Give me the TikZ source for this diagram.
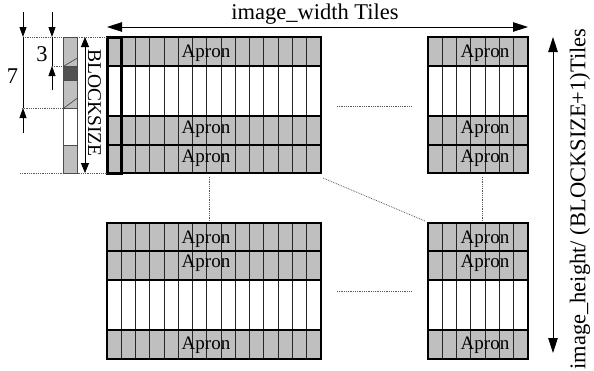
\documentclass[tikz,border=0pt]{standalone}
\usepackage{fontspec}
\setmainfont{Liberation Serif}
\usetikzlibrary{arrows.meta}

\begin{document}
\begin{tikzpicture}[x=1pt,y=-1pt,line cap=butt,
  lbl/.style={font=\fontsize{22.5}{24}\selectfont,inner sep=0pt},
  apron/.style={font=\fontsize{19}{20}\selectfont,inner sep=0pt},
  colline/.style={black!85,line width=0.9pt},
  rowline/.style={black,line width=1.1pt},
  gridframe/.style={black,line width=1.6pt},
  cellline/.style={black!70,line width=0.7pt},
  linkdots/.style={black!65,densely dotted,line width=0.8pt},
  dimarrow/.style={line width=0.8pt,-{Triangle[length=10pt,width=7pt]}},
  spanarrow/.style={line width=0.8pt,{Triangle[length=15pt,width=9.5pt]}-{Triangle[length=15pt,width=9.5pt]}}]
  \definecolor{apronfill}{RGB}{191,191,191}
  \definecolor{blockdark}{RGB}{82,82,82}
  \useasboundingbox (0,0) rectangle (594,370);

  % ---- top-left block of tiles (15 columns) ----
  \fill[apronfill] (107,37) rectangle (321,66);
  \fill[apronfill] (107,116) rectangle (321,173);
  \foreach \i in {1,...,14}
    \draw[colline] ({107+\i*214/15},37) -- ({107+\i*214/15},173);
  \draw[rowline] (107,66) -- (321,66) (107,116) -- (321,116) (107,145) -- (321,145);
  \draw[gridframe] (107,37) rectangle (321,173);
  \draw[line width=3pt] (107,37) rectangle (121.3,173);
  \node[apron] (tlA) at (206,53) {Apron};
  \node[apron] (tlB) at (206,129.5) {Apron};
  \node[apron] (tlC) at (206,158) {Apron};

  % ---- top-right block of tiles (7 columns) ----
  \fill[apronfill] (428,37) rectangle (528,66);
  \fill[apronfill] (428,116) rectangle (528,173);
  \foreach \i in {1,...,6}
    \draw[colline] ({428+\i*100/7},37) -- ({428+\i*100/7},173);
  \draw[rowline] (428,66) -- (528,66) (428,116) -- (528,116) (428,145) -- (528,145);
  \draw[gridframe] (428,37) rectangle (528,173);
  \node[apron] (trA) at (485,53) {Apron};
  \node[apron] (trB) at (485,129.5) {Apron};
  \node[apron] (trC) at (485,158) {Apron};

  % ---- bottom-left block of tiles ----
  \fill[apronfill] (107,223) rectangle (321,280);
  \fill[apronfill] (107,330) rectangle (321,359);
  \foreach \i in {1,...,14}
    \draw[colline] ({107+\i*214/15},223) -- ({107+\i*214/15},359);
  \draw[rowline] (107,251) -- (321,251) (107,280) -- (321,280) (107,330) -- (321,330);
  \draw[gridframe] (107,223) rectangle (321,359);
  \node[apron] (blA) at (206,239) {Apron};
  \node[apron] (blB) at (206,263) {Apron};
  \node[apron] (blC) at (206,345.5) {Apron};

  % ---- bottom-right block of tiles ----
  \fill[apronfill] (428,223) rectangle (528,280);
  \fill[apronfill] (428,330) rectangle (528,359);
  \foreach \i in {1,...,6}
    \draw[colline] ({428+\i*100/7},223) -- ({428+\i*100/7},359);
  \draw[rowline] (428,251) -- (528,251) (428,280) -- (528,280) (428,330) -- (528,330);
  \draw[gridframe] (428,223) rectangle (528,359);
  \node[apron] (brA) at (485,239) {Apron};
  \node[apron] (brB) at (485,263) {Apron};
  \node[apron] (brC) at (485,345.5) {Apron};

  % dotted links between the blocks
  \draw[linkdots] (337,106) -- (411,106);
  \draw[linkdots] (337,291) -- (411,291);
  \draw[linkdots] (209,177) -- (209,221);
  \draw[linkdots] (482,177) -- (482,221);
  \draw[linkdots] (323,178) -- (425,221);

  % ---- single column strip at the left ----
  \draw[linkdots] (23,37) -- (107,37);
  \draw[linkdots] (52,66) -- (63,66);
  \draw[linkdots] (22,108) -- (63,108);
  \draw[linkdots] (20,173) -- (107,173);
  \fill[white] (63,37) rectangle (77.5,173);
  \fill[apronfill] (63,37) rectangle (77.5,66);
  \fill[blockdark] (63,66) rectangle (77.5,80);
  \fill[apronfill] (63,80) rectangle (77.5,108);
  \fill[apronfill] (63,145) rectangle (77.5,173);
  \draw[cellline] (63,37) rectangle (77.5,173);
  \draw[cellline] (63,66) -- (77.5,66) (63,80) -- (77.5,80)
    (63,108) -- (77.5,108) (63,145) -- (77.5,145);
  \draw[cellline] (64,66) -- (77.5,58) (64,108) -- (77.5,98);

  % dimension marks
  \draw[line width=0.8pt] (23,37) -- (23,108);
  \draw[dimarrow] (23,12) -- (23,37);
  \draw[dimarrow] (23,133) -- (23,108);
  \node[lbl] (seven) at (12.5,76) {7};
  \draw[line width=0.8pt] (52,37) -- (52,66);
  \draw[dimarrow] (52,12) -- (52,37);
  \draw[dimarrow] (52,90) -- (52,66);
  \node[lbl] (three) at (42,54) {3};
  \draw[line width=0.8pt,{Triangle[length=10pt,width=8pt]}-{Triangle[length=10pt,width=8pt]}]
    (85,37) -- (85,173);
  \node[lbl,font=\fontsize{19.5}{21}\selectfont,rotate=-90] (bsz) at (94.5,103) {BLOCKSIZE};

  % ---- overall extent ----
  \draw[spanarrow] (107,27) -- (528,27);
  \node[lbl] (wid) at (315,14) {image\_width Tiles};
  \draw[spanarrow] (553,37) -- (553,353);
  \node[lbl,rotate=90] (hgt) at (580,199) {image\_height/ (BLOCKSIZE+1)Tiles};
\end{tikzpicture}
\end{document}
